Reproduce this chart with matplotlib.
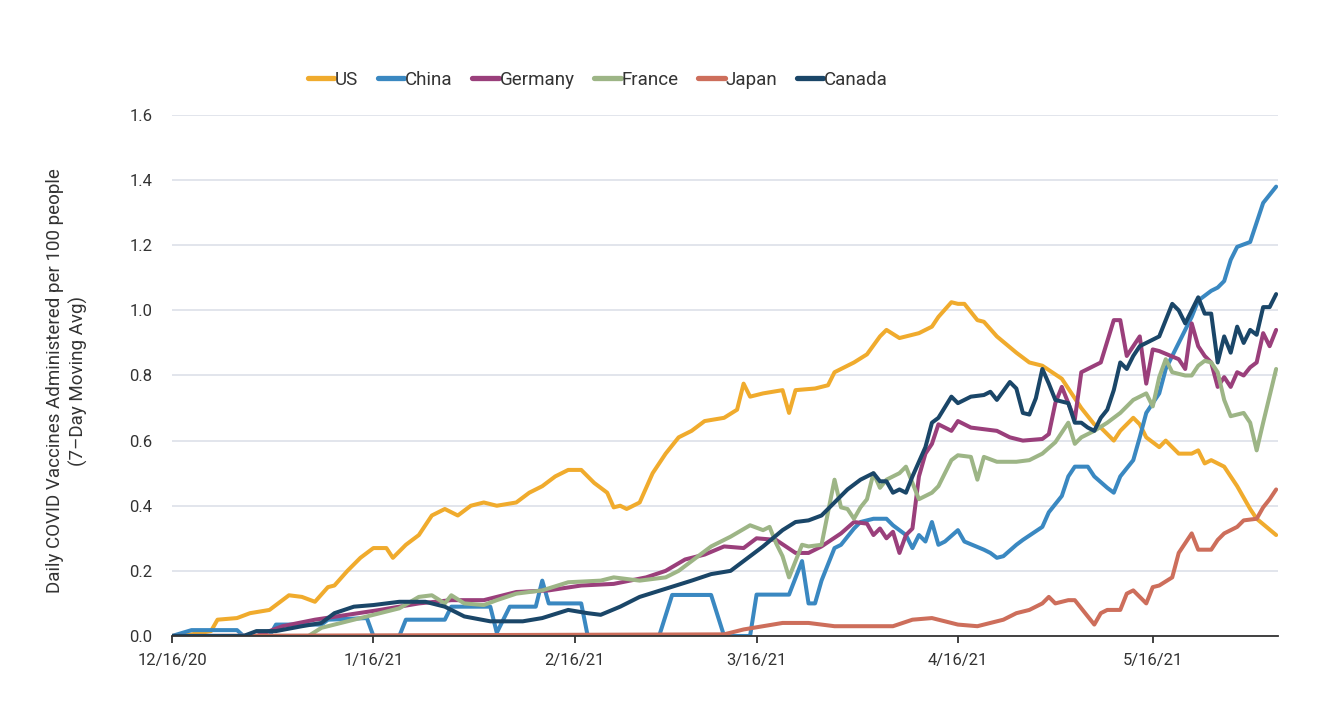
import numpy as np
import matplotlib
matplotlib.use("Agg")
import matplotlib.pyplot as plt
import matplotlib.dates as mdates

plt.rcParams['font.family'] = ['Roboto', 'DejaVu Sans']

start = np.datetime64('2020-12-16')

us_days = [0, 3, 6, 7, 10, 12, 15, 18, 20, 22, 24, 25, 27, 29, 31, 33, 34, 36, 38, 40, 42, 44, 46, 48, 50, 53, 55, 57, 59, 61, 63, 65, 67, 68, 69, 70, 72, 74, 76, 78, 80, 82, 85, 87, 88, 89, 91, 94, 95, 96, 99, 101, 102, 105, 107, 109, 110, 112, 115, 117, 118, 120, 121, 122, 124, 125, 127, 130, 132, 134, 137, 138, 140, 142, 143, 145, 146, 148, 149, 150, 152, 153, 155, 157, 158, 159, 160, 162, 164, 166, 167, 170]
us_vals = [0, 0.005, 0.015, 0.05, 0.055, 0.07, 0.08, 0.125, 0.12, 0.105, 0.15, 0.155, 0.20, 0.24, 0.27, 0.27, 0.24, 0.28, 0.31, 0.37, 0.39, 0.37, 0.40, 0.41, 0.40, 0.41, 0.44, 0.46, 0.49, 0.51, 0.51, 0.47, 0.44, 0.395, 0.40, 0.39, 0.41, 0.50, 0.56, 0.61, 0.63, 0.66, 0.67, 0.695, 0.775, 0.735, 0.745, 0.755, 0.685, 0.755, 0.76, 0.77, 0.81, 0.84, 0.865, 0.92, 0.94, 0.915, 0.93, 0.95, 0.98, 1.025, 1.02, 1.02, 0.97, 0.965, 0.92, 0.87, 0.84, 0.83, 0.79, 0.76, 0.70, 0.65, 0.64, 0.60, 0.63, 0.67, 0.65, 0.61, 0.58, 0.60, 0.56, 0.56, 0.57, 0.53, 0.54, 0.52, 0.46, 0.39, 0.36, 0.31]

china_days = [0, 3, 10, 11, 15, 16, 23, 24, 30, 31, 35, 36, 42, 43, 49, 50, 52, 56, 57, 58, 63, 64, 75, 77, 83, 85, 89, 90, 95, 97, 98, 99, 100, 102, 103, 105, 106, 108, 110, 111, 113, 114, 115, 116, 117, 118, 119, 121, 122, 125, 126, 127, 128, 130, 131, 134, 135, 137, 138, 139, 141, 142, 144, 145, 146, 148, 149, 150, 152, 153, 155, 157, 158, 160, 161, 162, 163, 164, 166, 167, 168, 170]
china_vals = [0, 0.018, 0.018, 0, 0, 0.035, 0.035, 0.05, 0.055, 0, 0, 0.05, 0.05, 0.09, 0.09, 0.01, 0.09, 0.09, 0.17, 0.10, 0.10, 0, 0, 0.126, 0.126, 0, 0, 0.127, 0.127, 0.23, 0.10, 0.10, 0.17, 0.27, 0.28, 0.33, 0.35, 0.36, 0.36, 0.34, 0.31, 0.27, 0.31, 0.29, 0.35, 0.28, 0.29, 0.325, 0.29, 0.265, 0.255, 0.24, 0.245, 0.28, 0.295, 0.335, 0.38, 0.43, 0.49, 0.52, 0.52, 0.49, 0.455, 0.44, 0.49, 0.54, 0.61, 0.685, 0.745, 0.82, 0.90, 0.98, 1.03, 1.06, 1.07, 1.09, 1.155, 1.195, 1.21, 1.27, 1.33, 1.38]

germany_days = [0, 13, 17, 22, 27, 32, 38, 43, 48, 53, 58, 63, 68, 73, 76, 79, 82, 85, 88, 90, 93, 96, 98, 100, 103, 105, 107, 108, 109, 110, 111, 112, 113, 114, 115, 116, 117, 118, 120, 121, 122, 123, 125, 127, 129, 131, 134, 135, 136, 137, 138, 139, 140, 141, 143, 145, 146, 147, 149, 150, 151, 152, 155, 156, 157, 158, 159, 160, 161, 162, 163, 164, 165, 166, 167, 168, 169, 170]
germany_vals = [0, 0, 0.03, 0.05, 0.065, 0.08, 0.10, 0.11, 0.11, 0.135, 0.14, 0.155, 0.16, 0.18, 0.20, 0.235, 0.25, 0.275, 0.27, 0.30, 0.295, 0.255, 0.255, 0.275, 0.315, 0.35, 0.345, 0.31, 0.33, 0.30, 0.32, 0.255, 0.31, 0.33, 0.49, 0.56, 0.59, 0.65, 0.63, 0.66, 0.65, 0.64, 0.635, 0.63, 0.61, 0.60, 0.605, 0.62, 0.715, 0.765, 0.715, 0.665, 0.81, 0.82, 0.84, 0.97, 0.97, 0.86, 0.92, 0.775, 0.88, 0.875, 0.85, 0.82, 0.96, 0.89, 0.86, 0.84, 0.765, 0.795, 0.765, 0.81, 0.80, 0.825, 0.84, 0.93, 0.89, 0.94]

france_days = [0, 21, 23, 27, 32, 35, 38, 40, 42, 43, 45, 48, 50, 53, 57, 61, 66, 68, 72, 76, 78, 81, 83, 86, 89, 91, 92, 93, 94, 95, 97, 98, 100, 101, 102, 103, 104, 105, 106, 107, 108, 109, 110, 112, 113, 114, 115, 117, 118, 120, 121, 123, 124, 125, 127, 130, 132, 134, 136, 138, 139, 140, 142, 144, 146, 148, 150, 151, 152, 153, 154, 156, 157, 158, 159, 160, 161, 162, 163, 165, 166, 167, 168, 170]
france_vals = [0, 0, 0.025, 0.045, 0.07, 0.085, 0.12, 0.125, 0.10, 0.125, 0.10, 0.095, 0.11, 0.13, 0.14, 0.165, 0.17, 0.18, 0.17, 0.18, 0.20, 0.245, 0.275, 0.305, 0.34, 0.325, 0.335, 0.285, 0.245, 0.18, 0.28, 0.275, 0.28, 0.38, 0.48, 0.395, 0.39, 0.36, 0.395, 0.42, 0.50, 0.455, 0.48, 0.50, 0.52, 0.47, 0.42, 0.44, 0.46, 0.54, 0.555, 0.55, 0.48, 0.55, 0.535, 0.535, 0.54, 0.56, 0.595, 0.655, 0.59, 0.61, 0.63, 0.655, 0.685, 0.725, 0.745, 0.705, 0.795, 0.85, 0.81, 0.80, 0.80, 0.83, 0.845, 0.84, 0.81, 0.725, 0.675, 0.685, 0.655, 0.57, 0.655, 0.82]

japan_days = [0, 85, 88, 91, 94, 98, 102, 106, 111, 114, 117, 118, 121, 124, 126, 128, 130, 132, 134, 135, 136, 138, 139, 141, 142, 143, 144, 146, 147, 148, 150, 151, 152, 154, 155, 157, 158, 160, 161, 162, 164, 165, 167, 168, 169, 170]
japan_vals = [0, 0.005, 0.02, 0.03, 0.04, 0.04, 0.03, 0.03, 0.03, 0.05, 0.055, 0.05, 0.035, 0.03, 0.04, 0.05, 0.07, 0.08, 0.10, 0.12, 0.10, 0.11, 0.11, 0.06, 0.035, 0.07, 0.08, 0.08, 0.13, 0.14, 0.10, 0.15, 0.155, 0.18, 0.255, 0.315, 0.265, 0.265, 0.295, 0.315, 0.335, 0.355, 0.36, 0.395, 0.42, 0.45]

canada_days = [0, 11, 13, 16, 20, 23, 25, 28, 31, 35, 39, 42, 45, 49, 54, 57, 61, 64, 66, 69, 72, 76, 80, 83, 86, 88, 91, 94, 96, 98, 100, 102, 104, 106, 108, 109, 110, 111, 112, 113, 114, 116, 117, 118, 120, 121, 123, 125, 126, 127, 129, 130, 131, 132, 133, 134, 135, 136, 138, 139, 140, 141, 142, 143, 144, 145, 146, 147, 148, 149, 151, 152, 154, 155, 156, 158, 159, 160, 161, 162, 163, 164, 165, 166, 167, 168, 169, 170]
canada_vals = [0, 0, 0.015, 0.015, 0.03, 0.04, 0.07, 0.09, 0.095, 0.105, 0.105, 0.09, 0.06, 0.045, 0.045, 0.055, 0.08, 0.07, 0.065, 0.09, 0.12, 0.145, 0.17, 0.19, 0.20, 0.23, 0.275, 0.325, 0.35, 0.355, 0.37, 0.41, 0.45, 0.48, 0.50, 0.475, 0.475, 0.44, 0.45, 0.44, 0.49, 0.58, 0.655, 0.67, 0.735, 0.715, 0.735, 0.74, 0.75, 0.725, 0.78, 0.76, 0.685, 0.68, 0.73, 0.82, 0.775, 0.725, 0.715, 0.655, 0.655, 0.64, 0.63, 0.67, 0.695, 0.755, 0.84, 0.82, 0.86, 0.89, 0.91, 0.92, 1.02, 1.00, 0.96, 1.04, 0.99, 0.99, 0.84, 0.92, 0.87, 0.95, 0.90, 0.94, 0.925, 1.01, 1.01, 1.05]

series = [
    ("US", us_days, us_vals, "#f0ab2d"),
    ("China", china_days, china_vals, "#3a88c1"),
    ("Germany", germany_days, germany_vals, "#9a3f7b"),
    ("France", france_days, france_vals, "#9db586"),
    ("Japan", japan_days, japan_vals, "#cd6e5b"),
    ("Canada", canada_days, canada_vals, "#1a4668"),
]

tick_dates = ['2020-12-16', '2021-01-16', '2021-02-16', '2021-03-16', '2021-04-16', '2021-05-16']
tick_labels = ['12/16/20', '1/16/21', '2/16/21', '3/16/21', '4/16/21', '5/16/21']
y_ticks = [0.0, 0.2, 0.4, 0.6, 0.8, 1.0, 1.2, 1.4, 1.6]

fig = plt.figure(figsize=(13.4, 7.26), dpi=100)
ax = fig.add_axes([0.1284, 0.124, 0.8254, 0.7176])

for name, days, vals, color in series:
    dates = start + np.array(days, dtype='timedelta64[D]')
    ax.plot(dates.astype('datetime64[D]').astype(object), vals, color=color,
            lw=2.9, label=name, solid_joinstyle='round', solid_capstyle='round')

ax.set_ylim(0, 1.6)
ax.set_yticks(y_ticks)
ax.set_yticklabels([f"{v:.1f}" for v in y_ticks])
t0 = mdates.date2num(start.astype(object))
ax.set_xlim(t0, t0 + 170.3)
ax.set_xticks([mdates.date2num(np.datetime64(d).astype(object)) for d in tick_dates])
ax.set_xticklabels(tick_labels)

ax.grid(axis='y', color='#dfe3ea', lw=1.3)
ax.grid(axis='x', visible=False)
ax.set_axisbelow(True)
for s in ['top', 'right', 'left']:
    ax.spines[s].set_visible(False)
ax.spines['bottom'].set_color('#333333')
ax.spines['bottom'].set_linewidth(1.3)
ax.tick_params(axis='y', length=0, pad=14, labelsize=12, labelcolor='#333333')
ax.tick_params(axis='x', length=5, width=1.3, color='#333333', pad=7, labelsize=12, labelcolor='#333333')

ax.set_ylabel("Daily COVID Vaccines Administered per 100 people\n(7\u2013Day Moving Avg)",
              fontsize=13.5, color='#333333', linespacing=1.3)
ax.yaxis.set_label_coords(-0.076, 0.49)

leg = ax.legend(loc='center', bbox_to_anchor=(0.385, 1.068), ncol=6, frameon=False,
                handlelength=1.4, handletextpad=0.05, columnspacing=1.05, fontsize=13.5)
for line in leg.get_lines():
    line.set_linewidth(3.8)
for t in leg.get_texts():
    t.set_color('#333333')

fig.savefig("out.png", dpi=100, facecolor='white')
